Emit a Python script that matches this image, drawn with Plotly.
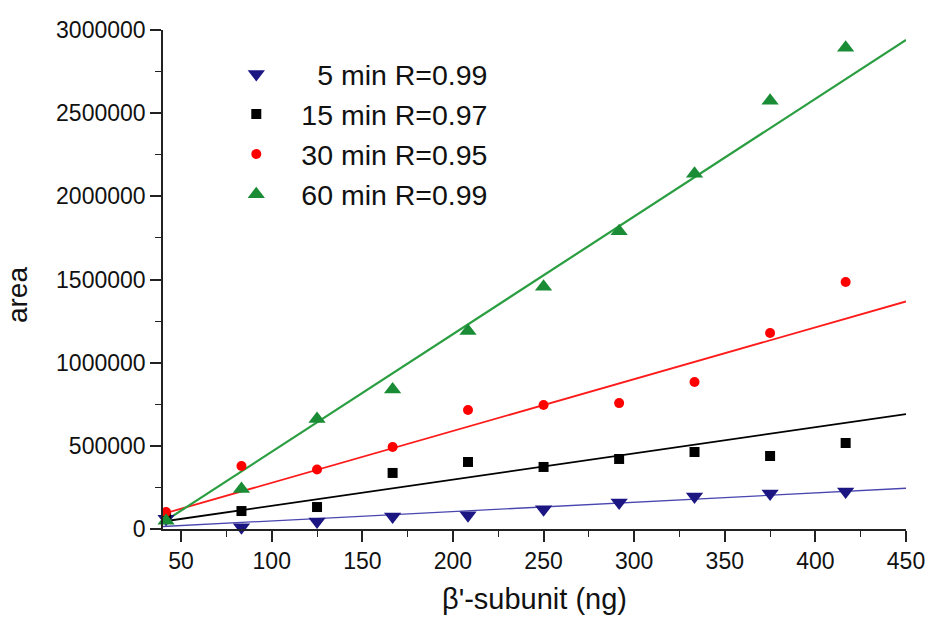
import plotly.graph_objects as go

# ---- data ----
x_ng = [41.7, 83.3, 125, 166.7, 208.3, 250, 291.7, 333.3, 375, 416.7]
area_5min = [62000, 10000, 45000, 75000, 82000, 118000, 160000, 196000, 214000, 226000]
area_15min = [66000, 108000, 132000, 337000, 403000, 373000, 421000, 463000, 439000, 517000]
area_30min = [102000, 379000, 358000, 493000, 715000, 745000, 757000, 884000, 1178000, 1485000]
area_60min = [50000, 240000, 662000, 838000, 1190000, 1457000, 1790000, 2136000, 2575000, 2894000]

fit_x = [40, 450]
fit_5min = [15000, 245000]
fit_15min = [45000, 691000]
fit_30min = [91000, 1368000]
fit_60min = [40000, 2940000]

names = ["\u20075 min R=0.99", "15 min R=0.97", "30 min R=0.95", "60 min R=0.99"]

FONT = "Liberation Sans, Arial, sans-serif"

series = [
    (area_5min, fit_5min, names[0], "triangle-down", 15, "#1c1683", "#4a46b0", 1.3),
    (area_15min, fit_15min, names[1], "square", 10, "#000000", "#000000", 1.8),
    (area_30min, fit_30min, names[2], "circle", 10, "#ff0000", "#ff1a1a", 1.8),
    (area_60min, fit_60min, names[3], "triangle-up", 15, "#1a8c35", "#2a9e40", 2.2),
]

fig = go.Figure()
for ys, fit, nm, sym, sz, mcol, lcol, lw in series:
    fig.add_trace(go.Scatter(x=fit_x, y=fit, mode="lines",
                             line=dict(color=lcol, width=lw),
                             showlegend=False, hoverinfo="skip"))
for ys, fit, nm, sym, sz, mcol, lcol, lw in series:
    fig.add_trace(go.Scatter(x=x_ng, y=ys, mode="markers", name=nm,
                             marker=dict(symbol=sym, size=sz, color=mcol,
                                         line=dict(width=0)),
                             cliponaxis=False))

fig.add_annotation(text="area", textangle=-90, xref="paper", yref="paper",
                   x=-0.195, y=0.469, xanchor="center", yanchor="middle",
                   showarrow=False, font=dict(size=28, family=FONT, color="#111111"))

fig.update_layout(
    width=931, height=617,
    margin=dict(l=163, r=25, t=30, b=88, autoexpand=False),
    paper_bgcolor="white", plot_bgcolor="white",
    font=dict(family=FONT, color="#111111", size=23),
    showlegend=True,
    legend=dict(x=0.065, y=0.962, xanchor="left", yanchor="top",
                bgcolor="rgba(0,0,0,0)", font=dict(size=28.5, family=FONT),
                itemwidth=80, tracegroupgap=0),
    xaxis=dict(range=[40, 450], tick0=50, dtick=50, showgrid=False, automargin=False,
               zeroline=False, showline=True, linecolor="#222222", linewidth=1.6,
               ticks="outside", ticklen=11, tickwidth=1.6, tickcolor="#222222",
               tickfont=dict(size=23),
               minor=dict(dtick=25, tick0=50, ticks="outside", ticklen=6,
                          tickwidth=1.4, tickcolor="#222222"),
               title=dict(text="\u03b2'-subunit (ng)", font=dict(size=29), standoff=15)),
    yaxis=dict(range=[0, 3000000], tick0=0, dtick=500000, tickformat="d", automargin=False,
               showgrid=False, zeroline=False, showline=True,
               linecolor="#222222", linewidth=1.6,
               ticks="outside", ticklen=11, tickwidth=1.6, tickcolor="#222222",
               tickfont=dict(size=23),
               minor=dict(dtick=250000, ticks="outside", ticklen=6,
                          tickwidth=1.4, tickcolor="#222222")),
)

fig.write_html("out.html")
